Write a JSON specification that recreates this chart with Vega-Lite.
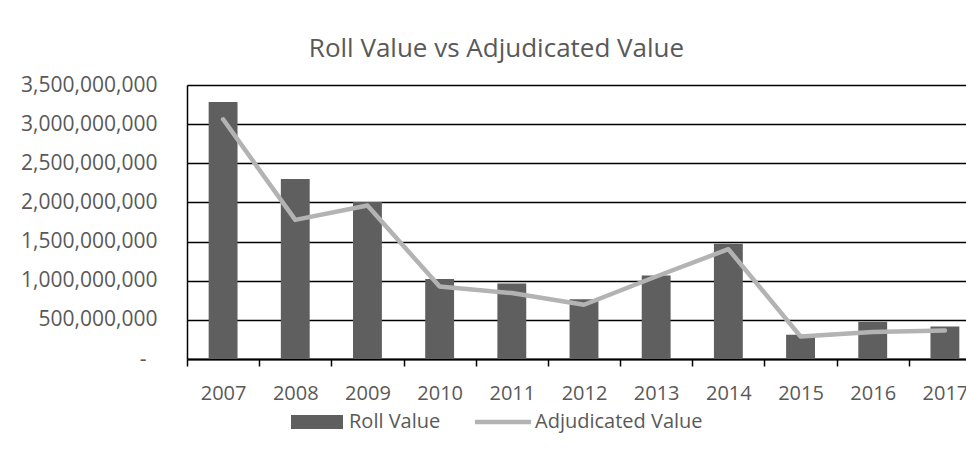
{
  "$schema": "https://vega.github.io/schema/vega-lite/v6.json",
  "autosize": {"type": "none"},
  "padding": {"left": 187, "top": 85, "right": 0, "bottom": 93},
  "width": 779,
  "height": 274,
  "background": "#ffffff",
  "title": {
    "text": "Roll Value vs Adjudicated Value",
    "anchor": "middle",
    "dx": -80,
    "offset": 12,
    "font": "Open Sans",
    "fontSize": 26,
    "fontWeight": "normal",
    "color": "#595959"
  },
  "data": {
    "values": [
      {"year": "2007", "Roll Value": 3283000000, "Adjudicated Value": 3062000000},
      {"year": "2008", "Roll Value": 2300000000, "Adjudicated Value": 1777000000},
      {"year": "2009", "Roll Value": 2007000000, "Adjudicated Value": 1960000000},
      {"year": "2010", "Roll Value": 1021000000, "Adjudicated Value": 926000000},
      {"year": "2011", "Roll Value": 965000000, "Adjudicated Value": 842000000},
      {"year": "2012", "Roll Value": 764000000, "Adjudicated Value": 693000000},
      {"year": "2013", "Roll Value": 1067000000, "Adjudicated Value": 1054000000},
      {"year": "2014", "Roll Value": 1471000000, "Adjudicated Value": 1403000000},
      {"year": "2015", "Roll Value": 310000000, "Adjudicated Value": 288000000},
      {"year": "2016", "Roll Value": 476000000, "Adjudicated Value": 344000000},
      {"year": "2017", "Roll Value": 416000000, "Adjudicated Value": 365000000}
    ]
  },
  "transform": [
    {"fold": ["Roll Value", "Adjudicated Value"], "as": ["series", "value"]}
  ],
  "encoding": {
    "x": {
      "field": "year",
      "type": "ordinal",
      "scale": {"range": [0, 794], "paddingInner": 0, "paddingOuter": 0},
      "axis": {
        "title": null,
        "labelAngle": 0,
        "labelFont": "Open Sans",
        "labelFontSize": 20,
        "labelColor": "#595959",
        "labelPadding": 17,
        "tickSize": 7,
        "tickColor": "#000000",
        "tickWidth": 1.5,
        "tickBand": "extent",
        "domainColor": "#000000",
        "domainWidth": 2,
        "grid": false
      }
    },
    "y": {
      "field": "value",
      "type": "quantitative",
      "scale": {"domain": [0, 3500000000], "nice": false},
      "axis": {
        "title": null,
        "values": [0, 500000000, 1000000000, 1500000000, 2000000000, 2500000000, 3000000000, 3500000000],
        "labelOverlap": false,
        "labelExpr": "datum.value === 0 ? '-\u00a0\u00a0\u200b' : format(datum.value, ',.0f')",
        "labelFont": "Open Sans",
        "labelFontSize": 21,
        "labelColor": "#595959",
        "labelPadding": 30,
        "ticks": false,
        "tickSize": 0,
        "domainColor": "#000000",
        "domainWidth": 1.5,
        "grid": true,
        "gridColor": "#000000",
        "gridWidth": 1.6,
        "gridOpacity": 1
      }
    },
    "color": {
      "field": "series",
      "type": "nominal",
      "scale": {"domain": ["Roll Value", "Adjudicated Value"], "range": ["#5f5f5f", "#b3b3b3"]},
      "legend": {
        "orient": "none",
        "legendX": 104,
        "legendY": 311,
        "direction": "horizontal",
        "title": null,
        "padding": 0,
        "symbolSize": 2704,
        "labelOffset": 6,
        "labelLimit": 400,
        "columnPadding": 33,
        "labelFont": "Open Sans",
        "labelFontSize": 20,
        "labelColor": "#595959",
        "encode": {
          "symbols": {
            "update": {
              "shape": {"signal": "datum.value === 'Roll Value' ? 'M-1,-0.27H1V0.27H-1Z' : 'M-1.08,-0.09H1.08V0.09H-1.08Z'"},
              "fill": {"signal": "datum.value === 'Roll Value' ? '#5f5f5f' : '#b3b3b3'"},
              "stroke": {"value": "transparent"},
              "strokeWidth": {"value": 0},
              "opacity": {"value": 1},
              "fillOpacity": {"value": 1}
            }
          }
        }
      }
    }
  },
  "layer": [
    {
      "transform": [{"filter": "datum.series === 'Roll Value'"}],
      "mark": {"type": "bar", "width": {"band": 0.4}}
    },
    {
      "transform": [{"filter": "datum.series === 'Adjudicated Value'"}],
      "mark": {"type": "line", "strokeWidth": 4.5, "strokeCap": "round", "strokeJoin": "round"}
    }
  ],
  "config": {
    "view": {"stroke": null},
    "font": "Open Sans"
  }
}
